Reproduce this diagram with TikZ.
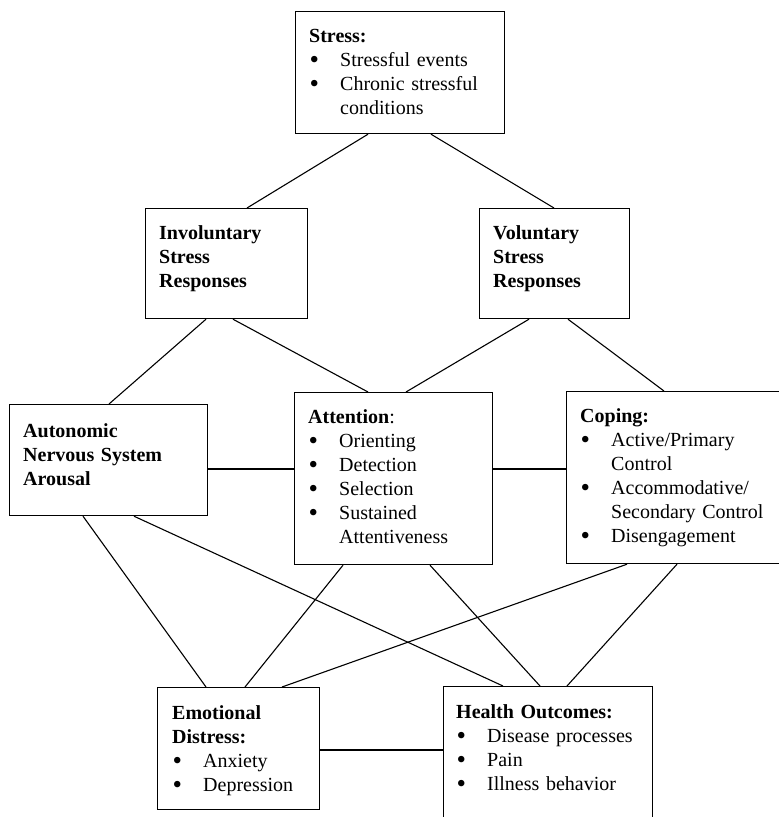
\documentclass[tikz,border=0pt]{standalone}
\usepackage{fontspec}
\usepackage{graphicx}
\setmainfont{Liberation Serif}
\usetikzlibrary{calc}
\newcommand{\bul}[1]{\par\hangindent=31pt\hangafter=1\noindent\makebox[31pt][l]{\hspace{0.5pt}\smash{\raisebox{-0.25ex}{\scalebox{1.35}{\textbullet}}}}#1\par}
\tikzset{
  box/.style={draw=black, line width=1.2pt, fill=none, inner sep=0pt, anchor=north west},
  txt/.style={inner sep=0pt, anchor=base west, text width=300pt,
    font=\fontsize{20}{24}\selectfont,
    execute at begin node={\raggedright\parindent=0pt}},
  link/.style={draw=black, line width=1.1pt}
}
\begin{document}
\begin{tikzpicture}[x=1pt,y=-1pt]
\fill[white] (0,0) rectangle (779,817);
\useasboundingbox (0,0) rectangle (779,817);
\clip (0,0) rectangle (779,817);
% boxes
\node[box, minimum width=209pt, minimum height=122pt] (stress) at (295,11) {};
\node[box, minimum width=162pt, minimum height=110pt] (invol) at (145,208) {};
\node[box, minimum width=150pt, minimum height=110pt] (vol) at (479,208) {};
\node[box, minimum width=198pt, minimum height=111pt] (auton) at (9,404) {};
\node[box, minimum width=198pt, minimum height=172pt] (attn) at (294,392) {};
\node[box, minimum width=234pt, minimum height=172pt] (coping) at (566,391) {};
\node[box, minimum width=162pt, minimum height=122pt] (emot) at (157,687) {};
\node[box, minimum width=209pt, minimum height=154pt] (health) at (443,686) {};
% texts
\node[txt] (stresst) at ($(stress.north west)+(14,31)$)
  {\textbf{Stress:}\bul{Stressful events}\bul{Chronic stressful\newline conditions}};
\node[txt] (involt) at ($(invol.north west)+(14,31)$)
  {\textbf{Involuntary\\Stress\\Responses}};
\node[txt] (volt) at ($(vol.north west)+(14,31)$)
  {\textbf{Voluntary\\Stress\\Responses}};
\node[txt] (autont) at ($(auton.north west)+(14,33)$)
  {\textbf{Autonomic\\Nervous System\\Arousal}};
\node[txt] (attnt) at ($(attn.north west)+(14,31)$)
  {\textbf{Attention}:\bul{Orienting}\bul{Detection}\bul{Selection}\bul{Sustained\newline Attentiveness}};
\node[txt] (copingt) at ($(coping.north west)+(14,31)$)
  {\textbf{Coping:}\bul{Active/Primary\newline Control}\bul{Accommodative/\newline Secondary Control}\bul{Disengagement}};
\node[txt] (emott) at ($(emot.north west)+(15,32)$)
  {\textbf{Emotional\\Distress:}\bul{Anxiety}\bul{Depression}};
\node[txt] (healtht) at ($(health.north west)+(13,32)$)
  {\textbf{Health Outcomes:}\bul{Disease processes}\bul{Pain}\bul{Illness behavior}};
% connectors
\draw[link] ($(stress.south west)+(73,0)$) -- ($(invol.north west)+(102,0)$);
\draw[link] ($(stress.south west)+(136,0)$) -- ($(vol.north west)+(75,0)$);
\draw[link] ($(invol.south west)+(61,0)$) -- ($(auton.north west)+(100,0)$);
\draw[link] ($(invol.south west)+(88,0)$) -- ($(attn.north west)+(74,0)$);
\draw[link] ($(vol.south west)+(50,0)$) -- ($(attn.north west)+(112,0)$);
\draw[link] ($(vol.south west)+(89,0)$) -- ($(coping.north west)+(98,0)$);
\draw[link] ($(auton.north east)+(0,65)$) coordinate (ha) -- (ha -| attn.west);
\draw[link] ($(attn.north east)+(0,77)$) coordinate (hb) -- (hb -| coping.west);
\draw[link] ($(auton.south west)+(74,0)$) -- ($(emot.north west)+(49,0)$);
\draw[link] ($(auton.south west)+(125,0)$) -- ($(health.north west)+(60,0)$);
\draw[link] ($(attn.south west)+(49,0)$) -- ($(emot.north west)+(88,0)$);
\draw[link] ($(attn.south west)+(136,0)$) -- ($(health.north west)+(97,0)$);
\draw[link] ($(coping.south west)+(61,0)$) -- ($(emot.north west)+(125,0)$);
\draw[link] ($(coping.south west)+(111,0)$) -- ($(health.north west)+(124,0)$);
\draw[link] ($(emot.north east)+(0,63)$) coordinate (hc) -- (hc -| health.west);
\end{tikzpicture}
\end{document}
